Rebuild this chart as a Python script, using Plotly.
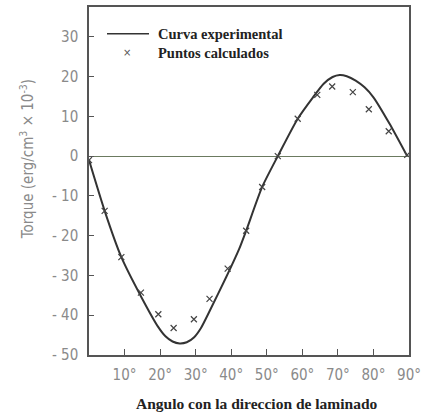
import plotly.graph_objects as go

# Experimental curve (traced)
curve_x = [0, 4.4, 9.1, 14.7, 19.5, 21.5, 23.5, 25.5, 27.5, 29.5, 31.5, 33.9, 38.6, 42.3, 44.2, 48.7, 53.1, 58.7, 63.0, 66.0, 68.5, 70.5, 72.5, 75.0, 77.5, 80.0, 84.5, 89.5]
curve_y = [-1, -13.75, -25.4, -35.4, -43.0, -45.3, -46.6, -47.1, -46.8, -45.6, -43.2, -39.0, -30.4, -23.2, -18.75, -7.75, 0, 9.4, 14.8, 18.2, 19.9, 20.4, 20.1, 19.0, 17.3, 14.8, 8.2, 0]

# Calculated points
pts_x = [0, 4.4, 9.1, 14.6, 19.5, 23.8, 29.5, 33.9, 39.0, 44.2, 48.7, 53.1, 58.7, 64.2, 68.4, 74.2, 78.7, 84.3, 89.5]
pts_y = [-1, -13.75, -25.4, -34.3, -39.75, -43.2, -41.0, -35.9, -28.3, -18.75, -7.75, 0, 9.4, 15.4, 17.5, 16.1, 11.8, 6.25, 0.3]

x_tickvals = [10, 20, 30, 40, 50, 60, 70, 80, 90]
x_ticktext = ["10°", "20°", "30°", "40°", "50°", "60°", "70°", "80°", "90°"]
y_tickvals = [30, 20, 10, 0, -10, -20, -30, -40, -50]
y_ticktext = ["30", "20", "10", "0", "- 10", "- 20", "- 30", "- 40", "- 50"]

cond = "Liberation Sans Narrow, DejaVu Sans Condensed, Roboto, sans-serif"
tick_font = dict(family=cond, size=15, color="#8a8a8a")
serif = "Liberation Serif, Times New Roman, serif"

fig = go.Figure()
fig.add_trace(go.Scatter(x=curve_x, y=curve_y, mode="lines", line=dict(color="#333333", width=2, shape="spline", smoothing=0.6),
                         showlegend=False, hoverinfo="skip"))
fig.add_trace(go.Scatter(x=pts_x, y=pts_y, mode="markers",
                         marker=dict(symbol="x-thin", size=6, line=dict(color="#444444", width=1.2)),
                         showlegend=False))

W, H = 429, 414
L, R, T, B = 89, 20, 5, 59

def px_x(p):
    return (p - L) / (W - L - R)

def px_y(p):
    return 1 - (p - T) / (H - T - B)

shapes = [dict(type="line", xref="paper", yref="paper", x0=px_x(107), x1=px_x(149), y0=px_y(32), y1=px_y(32),
               line=dict(color="#333333", width=1.5))]
annotations = [
    dict(text="<b>Curva experimental</b>", xref="paper", yref="paper", x=px_x(156), y=px_y(32), xanchor="left", yanchor="middle",
         showarrow=False, font=dict(family=serif, size=14.5, color="#222222")),
    dict(text="×", xref="paper", yref="paper", x=px_x(127), y=px_y(51), xanchor="center", yanchor="middle",
         showarrow=False, font=dict(family="DejaVu Sans, sans-serif", size=10, color="#555555")),
    dict(text="<b>Puntos calculados</b>", xref="paper", yref="paper", x=px_x(156), y=px_y(51), xanchor="left", yanchor="middle",
         showarrow=False, font=dict(family=serif, size=14.5, color="#222222")),
    dict(text="Torque (erg/cm<sup>3</sup> × 10<sup>-3</sup>)", xref="paper", yref="paper", x=px_x(27), y=px_y(158),
         xanchor="center", yanchor="middle", textangle=-90, showarrow=False,
         font=dict(family=cond, size=15, color="#8a8a8a")),
    dict(text="<b>Angulo con la direccion de laminado</b>", xref="paper", yref="paper", x=px_x(257), y=px_y(404),
         xanchor="center", yanchor="middle", showarrow=False, font=dict(family=serif, size=15.5, color="#222222")),
]

fig.update_layout(
    width=W, height=H, margin=dict(l=L, r=R, t=T, b=B),
    paper_bgcolor="white", plot_bgcolor="white",
    shapes=shapes, annotations=annotations,
    xaxis=dict(range=[0, 90], tickvals=x_tickvals, ticktext=x_ticktext, ticks="inside", ticklen=6, tickcolor="#555555",
               showgrid=False, zeroline=False, showline=True, linecolor="#555555", linewidth=1.5, mirror=True,
               tickfont=tick_font, ticklabelstandoff=5),
    yaxis=dict(range=[-50, 37.5], tickvals=y_tickvals, ticktext=y_ticktext, ticks="inside", ticklen=5, tickcolor="#555555",
               showgrid=False, zeroline=True, zerolinecolor="#6b7a60", zerolinewidth=1.2,
               showline=True, linecolor="#555555", linewidth=1.5, mirror=True,
               tickfont=tick_font, ticklabelstandoff=6),
)

fig.write_html("out.html", config={"displayModeBar": False},
               post_script="document.body.style.margin='0';document.body.style.overflow='hidden';")
